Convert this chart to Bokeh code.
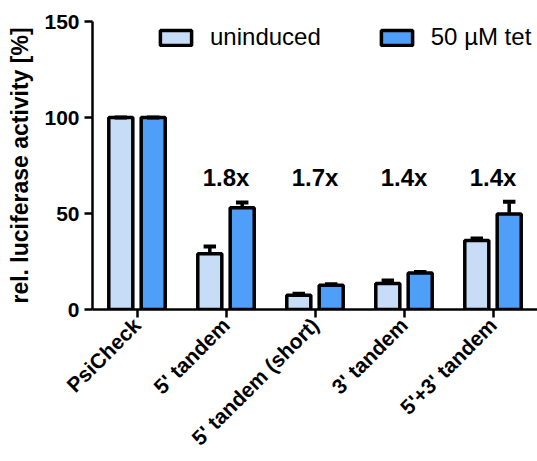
import numpy as np
from bokeh.plotting import figure
from bokeh.models import (ColumnDataSource, Range1d, FixedTicker, Legend, LegendItem)
from bokeh.transform import dodge
from bokeh.core.properties import value
from bokeh.embed import file_html
from bokeh.resources import INLINE

# Luciferase reporter constructs and measured activities (% of PsiCheck)
categories = ["PsiCheck", "5' tandem", "5' tandem (short)", "3' tandem", "5'+3' tandem"]
uninduced = [100, 29.0, 7.4, 13.5, 36.0]
uninduced_err = [0, 3.8, 0.8, 1.6, 1.0]
tet = [100, 53.0, 12.6, 19.0, 49.8]
tet_err = [0, 2.7, 0.5, 0.5, 6.3]
fold_labels = ["", "1.8x", "1.7x", "1.4x", "1.4x"]
y_ticks = [0, 50, 100, 150]

FONT = "Liberation Sans"
LIGHT = "#c7ddf7"
DARK = "#4f9ef7"
BAR_W = 0.27
OFFSET = 0.182
CAP_W = 0.14
FOLD_LABEL_Y = 69

idx = np.arange(len(categories))
src = ColumnDataSource(dict(
    x=idx,
    un=uninduced, un_top=np.array(uninduced) + np.array(uninduced_err),
    tet=tet, tet_top=np.array(tet) + np.array(tet_err),
))

p = figure(width=537, height=461, output_backend="svg", toolbar_location=None,
           x_range=Range1d(-0.5, 4.5), y_range=Range1d(0, 150),
           min_border_left=92, min_border_right=0, min_border_top=21,
           min_border_bottom=152)
p.outline_line_color = None
p.xgrid.visible = False
p.ygrid.visible = False

r_un = p.vbar(x=dodge("x", -OFFSET), top="un", width=BAR_W, source=src,
              fill_color=LIGHT, line_color="black", line_width=3.5)
r_tet = p.vbar(x=dodge("x", OFFSET), top="tet", width=BAR_W, source=src,
               fill_color=DARK, line_color="black", line_width=3.5)

# upper error bars: stem plus cap
for off, lo, hi in [(-OFFSET, "un", "un_top"), (OFFSET, "tet", "tet_top")]:
    p.segment(x0=dodge("x", off), y0=lo, x1=dodge("x", off), y1=hi,
              source=src, line_color="black", line_width=3.5)
    p.segment(x0=dodge("x", off - CAP_W / 2), y0=hi, x1=dodge("x", off + CAP_W / 2),
              y1=hi, source=src, line_color="black", line_width=4)

# fold induction above each construct
p.text(x=idx[1:], y=[FOLD_LABEL_Y] * (len(idx) - 1), text=fold_labels[1:],
       text_font=value(FONT), text_font_style="bold", text_font_size="24px",
       text_align="center", text_baseline="middle", text_color="black")

# axes
p.xaxis.ticker = FixedTicker(ticks=list(idx))
p.xaxis.major_label_overrides = {int(i): c for i, c in zip(idx, categories)}
p.xaxis.major_label_orientation = np.pi / 4
p.yaxis.ticker = FixedTicker(ticks=y_ticks)
p.yaxis.axis_label = "rel. luciferase activity [%]"

for ax in (p.xaxis, p.yaxis):
    ax.axis_line_width = 2.5
    ax.axis_line_color = "black"
    ax.major_tick_line_width = 2.5
    ax.major_tick_line_color = "black"
    ax.major_tick_in = 0
    ax.major_tick_out = 8
    ax.minor_tick_line_color = None
    ax.major_label_text_font = FONT
    ax.major_label_text_font_style = "bold"
    ax.major_label_text_color = "black"

p.xaxis.major_label_standoff = 4
p.yaxis.major_label_standoff = 5
p.xaxis.major_label_text_font_size = "21px"
p.yaxis.major_label_text_font_size = "21px"
p.yaxis.axis_label_text_font = FONT
p.yaxis.axis_label_text_font_style = "bold"
p.yaxis.axis_label_text_font_size = "23px"
p.yaxis.axis_label_text_color = "black"
p.yaxis.axis_label_standoff = 8

legend = Legend(items=[LegendItem(label="uninduced", renderers=[r_un]),
                       LegendItem(label="50 µM tet", renderers=[r_tet])],
                orientation="horizontal", location=(64, 258),
                glyph_width=39, glyph_height=19, label_standoff=15, spacing=56,
                padding=0, margin=0, border_line_alpha=0, background_fill_alpha=0,
                label_text_font=FONT, label_text_font_size="24px",
                label_text_color="black")
p.add_layout(legend)

open("out.html", "w").write(file_html(p, INLINE))
